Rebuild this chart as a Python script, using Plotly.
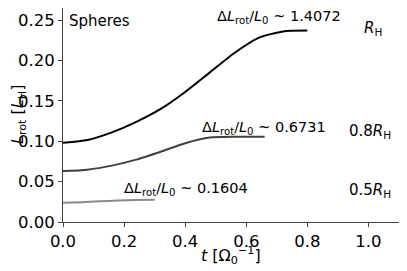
import plotly.graph_objects as go

# Data
t_r1 = [0.0, 0.08, 0.16, 0.24, 0.32, 0.40, 0.48, 0.56, 0.64, 0.72, 0.80]
L_r1 = [0.098, 0.1015, 0.111, 0.124, 0.140, 0.161, 0.185, 0.209, 0.228, 0.236, 0.237]

t_r08 = [0.0, 0.08, 0.16, 0.24, 0.32, 0.40, 0.48, 0.56, 0.66]
L_r08 = [0.063, 0.0648, 0.0698, 0.0772, 0.087, 0.0975, 0.1045, 0.1055, 0.1055]

t_r05 = [0.0, 0.06, 0.12, 0.18, 0.24, 0.30]
L_r05 = [0.0237, 0.0245, 0.0256, 0.0266, 0.0272, 0.0276]

x_ticks = [0.0, 0.2, 0.4, 0.6, 0.8, 1.0]
y_ticks = [0.00, 0.05, 0.10, 0.15, 0.20, 0.25]

FONT = "DejaVu Sans"

fig = go.Figure()
fig.add_trace(go.Scatter(x=t_r1, y=L_r1, mode="lines",
                         line=dict(color="#000000", width=2, shape="spline", smoothing=0.6),
                         showlegend=False))
fig.add_trace(go.Scatter(x=t_r08, y=L_r08, mode="lines",
                         line=dict(color="#404040", width=2, shape="spline", smoothing=0.6),
                         showlegend=False))
fig.add_trace(go.Scatter(x=t_r05, y=L_r05, mode="lines",
                         line=dict(color="#8a8a8a", width=2, shape="spline", smoothing=0.6),
                         showlegend=False))

dl = "Δ<i>L</i><sub>rot</sub>/<i>L</i><sub>0</sub> ~ "
annots = [
    (0.013, 0.249, "Spheres", 15),
    (0.496, 0.254, dl + "1.4072", 14.5),
    (0.979, 0.240, "<i>R</i><sub>H</sub>", 15),
    (0.447, 0.117, dl + "0.6731", 14.5),
    (0.929, 0.112, "0.8<i>R</i><sub>H</sub>", 15),
    (0.194, 0.041, dl + "0.1604", 14.5),
    (0.929, 0.0395, "0.5<i>R</i><sub>H</sub>", 15),
]
for x, y, txt, fs in annots:
    fig.add_annotation(x=x, y=y, text=txt, showarrow=False, xanchor="left",
                       yanchor="middle", font=dict(family=FONT, size=fs, color="black"))

# axis titles placed as annotations (paper coords)
fig.add_annotation(x=0.5, y=0, xref="paper", yref="paper", yshift=-33,
                   text="<i>t</i> [Ω<sub>0</sub><sup>−1</sup>]", showarrow=False,
                   xanchor="center", yanchor="middle",
                   font=dict(family=FONT, size=16, color="black"))
fig.add_annotation(x=0, y=0.5, xref="paper", yref="paper", xshift=-45,
                   text="<i>L</i><sub>rot</sub> [<i>L</i><sub>H</sub>]", showarrow=False,
                   textangle=-90, xanchor="center", yanchor="middle",
                   font=dict(family=FONT, size=16, color="black"))

axis_common = dict(showline=True, linecolor="#444444", linewidth=1, mirror=True,
                   ticks="outside", ticklen=4, tickcolor="#444444", showgrid=False,
                   zeroline=False, automargin=False,
                   tickfont=dict(family=FONT, size=16.5, color="black"))

fig.update_xaxes(range=[0, 1.1], tickvals=x_ticks, ticktext=[f"{v:.1f}" for v in x_ticks],
                 **axis_common)
fig.update_yaxes(range=[0, 0.265], tickvals=y_ticks, ticktext=[f"{v:.2f}" for v in y_ticks],
                 **axis_common)

# page body has an 8px margin; compensate so the plot area lands at the reference position
fig.update_layout(width=399, height=263, margin=dict(l=55, r=8, t=0, b=49),
                  plot_bgcolor="white", paper_bgcolor="white",
                  font=dict(family=FONT))

fig.write_html("out.html")
